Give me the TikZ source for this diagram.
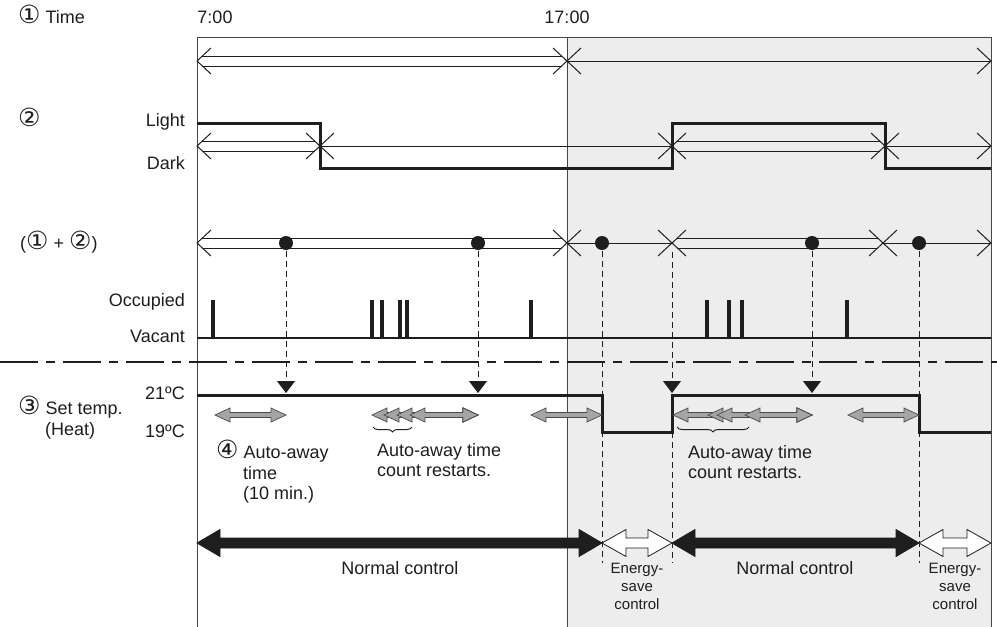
\documentclass[tikz,border=0pt]{standalone}
\usepackage{fontspec}
\setmainfont{Liberation Sans}
\newfontfamily\symfont{DejaVu Sans}
\usetikzlibrary{arrows.meta,decorations.pathreplacing}
\definecolor{inkclr}{RGB}{30,30,30}
\definecolor{shadeclr}{RGB}{237,237,237}
\definecolor{boxclr}{RGB}{70,70,70}
\definecolor{greyarrclr}{RGB}{165,165,165}
\tikzset{
  boxline/.style={draw=boxclr,line width=1pt},
  tline/.style={draw=inkclr,line width=1pt},
  sigline/.style={draw=inkclr,line width=3pt},
  pulse/.style={draw=inkclr,line width=4pt},
  dropline/.style={draw=inkclr,line width=1pt,dash pattern=on 6pt off 4pt},
  sepline/.style={draw=inkclr,line width=2pt,dash pattern=on 38pt off 8pt on 9pt off 8pt},
  dropend/.style={-{Triangle[length=12pt,width=18pt]}},
  bigarr/.style={fill=inkclr,draw=inkclr,line width=0.8pt},
  openarr/.style={fill=white,draw=inkclr,line width=0.8pt},
  greyarr/.style={fill=greyarrclr,draw=inkclr!80,line width=0.7pt},
  lbl/.style={font=\fontsize{18}{20.5}\selectfont,inner sep=0pt,
    text height=13pt,text depth=0pt,text=inkclr},
  mlbl/.style={font=\fontsize{18}{20.5}\selectfont,inner sep=0pt,
    align=left,text=inkclr},
  slbl/.style={font=\fontsize{15}{18}\selectfont,inner sep=0pt,
    align=center,text=inkclr},
}
% circled step numbers
\newcommand{\cnum}[1]{{\symfont\fontsize{25}{25}\selectfont #1}}
% open V tips and time spans
\newcommand{\ltip}[2]{\draw[tline] ({#1+14},{#2-13}) -- (#1,#2) -- ({#1+14},{#2+13});}
\newcommand{\rtip}[2]{\draw[tline] ({#1-14},{#2-13}) -- (#1,#2) -- ({#1-14},{#2+13});}
\newcommand{\dblspan}[3]{\draw[tline] ({#1+5},{#3-5}) -- ({#2-5},{#3-5})
  ({#1+5},{#3+5}) -- ({#2-5},{#3+5}); \ltip{#1}{#3}\rtip{#2}{#3}}
\newcommand{\sglspan}[3]{\draw[tline] (#1,#3) -- (#2,#3); \ltip{#1}{#3}\rtip{#2}{#3}}
% fat double arrow: style, x1, x2, y, shaft half, head half, head length
\newcommand{\fatarrow}[7]{\draw[#1] (#2,#4) -- ({#2+#7},{#4-#6}) -- ({#2+#7},{#4-#5})
  -- ({#3-#7},{#4-#5}) -- ({#3-#7},{#4-#6}) -- (#3,#4) -- ({#3-#7},{#4+#6})
  -- ({#3-#7},{#4+#5}) -- ({#2+#7},{#4+#5}) -- ({#2+#7},{#4+#6}) -- cycle;}

\begin{document}
\begin{tikzpicture}[x=1pt,y=-1pt]
  \useasboundingbox (0,0) rectangle (997,627);

  %% frame and shaded evening part
  \fill[shadeclr] (567,37) rectangle (991,627);
  \draw[boxline] (197,627) -- (197,37) -- (991,37) -- (991,627);
  \draw[boxline] (567,37) -- (567,627);

  %% left labels
  \node[lbl,anchor=west] (ttime) at (18,17) {\cnum{①} Time};
  \node[lbl] (t7) at (215,17) {7:00};
  \node[lbl] (t17) at (567,17) {17:00};
  \node[lbl,anchor=west] (lux) at (18,120) {\cnum{②}};
  \node[lbl,anchor=east] (light) at (185,120) {Light};
  \node[lbl,anchor=east] (dark) at (185,163) {Dark};
  \node[lbl,anchor=west] (both) at (20,243) {(\cnum{①} + \cnum{②})};
  \node[lbl,anchor=east] (occ) at (185,300) {Occupied};
  \node[lbl,anchor=east] (vac) at (185,336) {Vacant};
  \node[lbl,anchor=east] (hi) at (185,393) {21ºC};
  \node[lbl,anchor=east] (lo) at (185,431) {19ºC};
  \node[lbl,anchor=west] (settemp) at (18,408) {\cnum{③} Set temp.};
  \node[lbl,anchor=west] (heat) at (45,429) {(Heat)};

  %% time spans
  \dblspan{197}{567}{61} \sglspan{567}{991}{61}
  \dblspan{197}{320}{146} \sglspan{320}{672}{146}
  \dblspan{672}{885}{146} \sglspan{885}{991}{146}
  \dblspan{197}{567}{243} \sglspan{567}{672}{243}
  \dblspan{672}{883}{243} \sglspan{883}{991}{243}

  %% light level
  \draw[sigline] (197,123) -| (320,168) -| (672,123) -| (885,168) -- (991,168);

  %% occupancy
  \draw[tline,line width=1.4pt] (197,338) -- (991,338);
  \foreach \x in {213,372,382,400,407,531,707,729,742,847}
    {\draw[pulse] (\x,339) -- (\x,300);}

  \draw[sepline] (0,362) -- (997,362);

  %% set temperature
  \draw[sigline] (197,395) -| (602,432) -| (672,395) -| (919,432) -- (991,432);

  %% triggers
  \foreach \x in {286,478,812}
    {\draw[dropline,dropend] (\x,251) -- (\x,393);}
  \draw[dropline,dropend] (672,252) -- (672,393);
  \draw[dropline] (672,432) -- (672,563);
  \foreach \x in {602,919}
    {\draw[dropline] (\x,251) -- (\x,563);}
  \foreach \x in {286,478,602,812,919}
    {\fill[inkclr] (\x,243) circle[radius=7pt];}

  %% auto-away timers
  \fatarrow{greyarr}{215}{286}{415}{2.5}{7}{15}
  \foreach \s in {372,384,397,410}
    {\fatarrow{greyarr}{\s}{478}{415}{2.5}{7}{15}}
  \fatarrow{greyarr}{531}{602}{415}{2.5}{7}{15}
  \foreach \s in {673,708,717,745}
    {\fatarrow{greyarr}{\s}{812}{415}{2.5}{7}{15}}
  \fatarrow{greyarr}{848}{919}{415}{2.5}{7}{15}

  \draw[tline,decorate,decoration={brace,amplitude=5pt,mirror}] (373,427) -- (412,427);
  \draw[tline,decorate,decoration={brace,amplitude=5pt,mirror}] (677,427) -- (749,427);

  \node[mlbl,anchor=north west] (away) at (216,440)
    {\cnum{④} Auto-away\\\hspace*{27pt}time\\\hspace*{27pt}(10 min.)};
  \node[mlbl,anchor=north west] (restart1) at (377,443) {Auto-away time\\count restarts.};
  \node[mlbl,anchor=north west] (restart2) at (688,445) {Auto-away time\\count restarts.};

  %% control modes
  \fatarrow{bigarr}{197}{602}{543}{5}{13.5}{23}
  \fatarrow{openarr}{602}{672}{543}{5}{13.5}{24}
  \fatarrow{bigarr}{672}{919}{543}{5}{13.5}{23}
  \fatarrow{openarr}{919}{991}{543}{5}{13.5}{24}

  \node[lbl] (norm1) at (400,568) {Normal control};
  \node[lbl] (norm2) at (795,568) {Normal control};
  \node[slbl,anchor=north] (save1) at (637,563) {Energy-\\save\\control};
  \node[slbl,anchor=north] (save2) at (955,563) {Energy-\\save\\control};
\end{tikzpicture}
\end{document}
